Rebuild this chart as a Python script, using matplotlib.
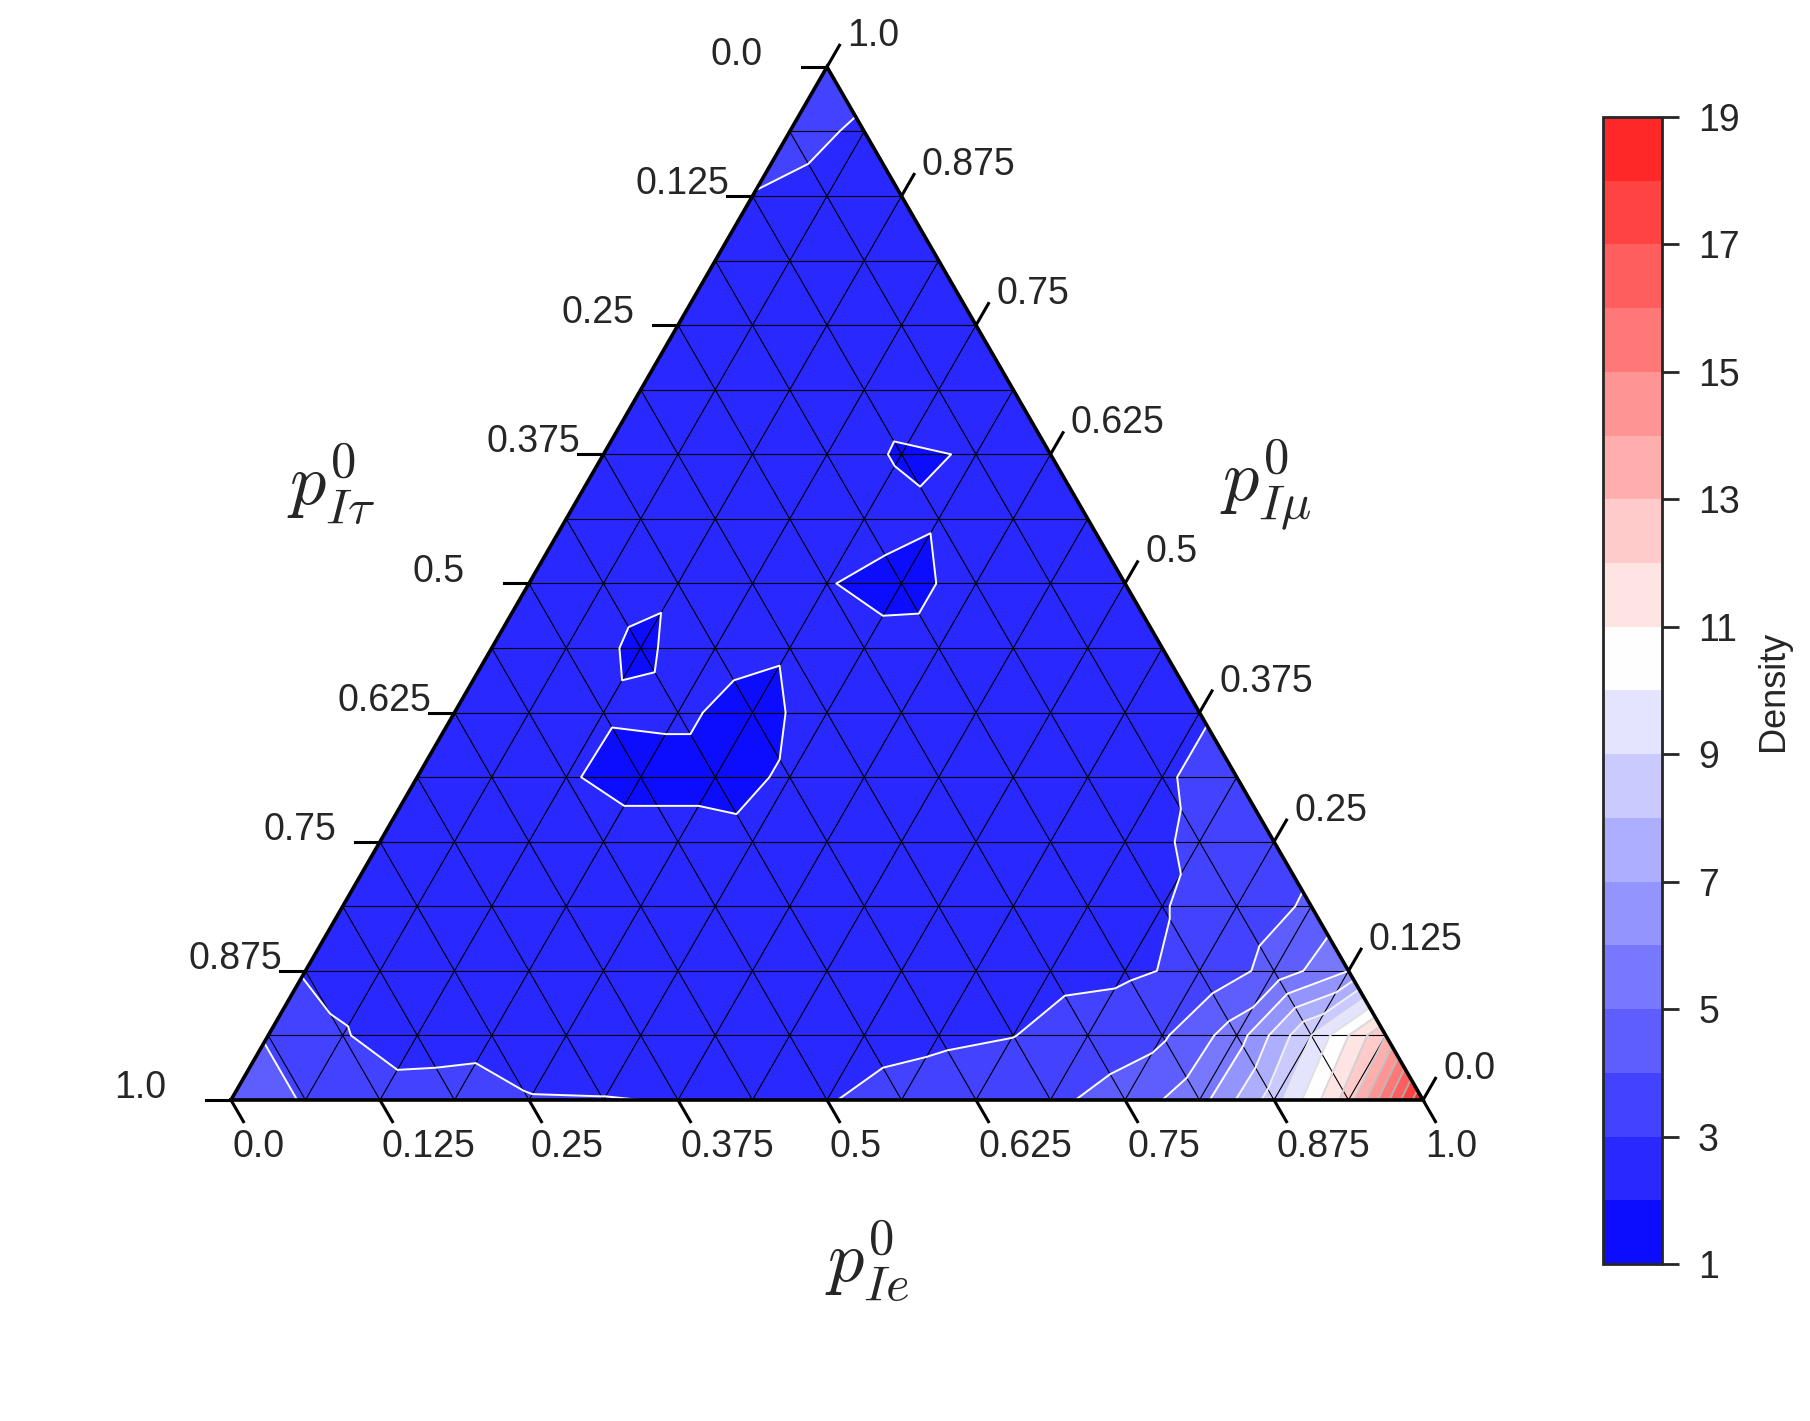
import matplotlib
matplotlib.use("Agg")
import matplotlib.pyplot as plt
import matplotlib.tri as mtri
import numpy as np

plt.rcParams['font.family'] = ['Liberation Sans', 'DejaVu Sans']
plt.rcParams['mathtext.fontset'] = 'cm'

# density on the 1/16 simplex grid, one list per p_Imu row (bottom -> top),
# entries run along p_Ie from 0 up to 1 - p_Imu
dens_mu00 = [4.4, 3.95, 3.35, 3.4, 3.05, 3.03, 2.97, 2.92, 2.95, 3.3, 3.5, 3.8, 4.4, 5.6, 8.5, 12.5, 18.9]
dens_mu01 = [3.95, 3.05, 2.6, 2.7, 2.5, 2.5, 2.55, 2.6, 2.7, 2.85, 2.98, 3.4, 3.85, 5.5, 9.0, 13.0]
dens_mu02 = [2.9, 2.7, 2.5, 2.45, 2.4, 2.4, 2.45, 2.5, 2.55, 2.65, 2.75, 2.85, 3.2, 4.35, 6.0]
dens_mu03 = [2.7, 2.5, 2.4, 2.35, 2.3, 2.3, 2.35, 2.4, 2.5, 2.6, 2.75, 2.95, 3.45, 4.15]
dens_mu04 = [2.6, 2.45, 2.35, 2.5, 2.5, 2.3, 2.3, 2.35, 2.45, 2.6, 2.9, 3.05, 3.5]
dens_mu05 = [2.55, 2.4, 2.1, 1.6, 1.6, 2.15, 2.3, 2.35, 2.45, 2.6, 2.95, 3.2]
dens_mu06 = [2.5, 2.35, 2.12, 2.2, 1.6, 2.5, 2.35, 2.4, 2.5, 2.65, 2.95]
dens_mu07 = [2.45, 2.3, 1.88, 2.4, 2.15, 2.35, 2.4, 2.45, 2.55, 2.6]
dens_mu08 = [2.4, 2.25, 2.1, 2.3, 2.05, 1.65, 2.4, 2.45, 2.55]
dens_mu09 = [2.4, 2.35, 2.3, 2.35, 2.45, 2.1, 2.45, 2.5]
dens_mu10 = [2.45, 2.4, 2.35, 2.45, 1.9, 2.05, 2.5]
dens_mu11 = [2.5, 2.45, 2.4, 2.4, 2.55, 2.55]
dens_mu12 = [2.6, 2.5, 2.45, 2.5, 2.6]
dens_mu13 = [2.75, 2.6, 2.55, 2.6]
dens_mu14 = [2.97, 2.7, 2.6]
dens_mu15 = [3.3, 2.85]
dens_mu16 = [3.5]

tick_values = [0.0, 0.125, 0.25, 0.375, 0.5, 0.625, 0.75, 0.875, 1.0]
tick_labels = ["0.0", "0.125", "0.25", "0.375", "0.5", "0.625", "0.75", "0.875", "1.0"]
contour_levels = list(range(1, 20))
cbar_ticks = [1, 3, 5, 7, 9, 11, 13, 15, 17, 19]
label_e = r"$p^0_{Ie}$"
label_mu = r"$p^0_{I\mu}$"
label_tau = r"$p^0_{I\tau}$"

H = np.sqrt(3) / 2
N = 16


def cart(e, mu):
    return e + mu / 2.0, mu * H


rows = [dens_mu00, dens_mu01, dens_mu02, dens_mu03, dens_mu04, dens_mu05,
        dens_mu06, dens_mu07, dens_mu08, dens_mu09, dens_mu10, dens_mu11,
        dens_mu12, dens_mu13, dens_mu14, dens_mu15, dens_mu16]

xs, ys, zs = [], [], []
index = {}
for j, row in enumerate(rows):
    for i, val in enumerate(row):
        index[(i, j)] = len(zs)
        x, y = cart(i / N, j / N)
        xs.append(x)
        ys.append(y)
        zs.append(val)

triangles = []
for j in range(N):
    for i in range(N - j):
        triangles.append([index[(i, j)], index[(i + 1, j)], index[(i, j + 1)]])
        if i + j < N - 1:
            triangles.append([index[(i + 1, j)], index[(i + 1, j + 1)], index[(i, j + 1)]])
tri = mtri.Triangulation(np.array(xs), np.array(ys), triangles)
zs = np.array(zs)

fig = plt.figure(figsize=(9.05, 7.105), dpi=200)
ax = fig.add_axes([0.1276, 0.2259, 0.6586, 0.7270])
ax.set_xlim(0, 1)
ax.set_ylim(0, H)
ax.axis('off')

cs = ax.tricontourf(tri, zs, levels=contour_levels, cmap='bwr', vmin=1, vmax=20)

# simplex grid
for k in range(1, N):
    f = k / N
    for (a, b) in [((0, f), (1 - f, f)), ((f, 0), (f, 1 - f)), ((f, 0), (0, f))]:
        p, q = cart(*a), cart(*b)
        ax.plot([p[0], q[0]], [p[1], q[1]], color='black', lw=0.4, zorder=2)

inner = contour_levels[1:-1]
line_cols = [str(np.clip(1.0 - (lev - 6) * 0.03, 0.62, 1.0)) for lev in inner]
ax.tricontour(tri, zs, levels=inner, colors=line_cols, linewidths=0.7, zorder=3)

# border
corners = [cart(0, 0), cart(1, 0), cart(0, 1), cart(0, 0)]
ax.plot([c[0] for c in corners], [c[1] for c in corners], color='black', lw=1.3,
        zorder=4, clip_on=False, solid_joinstyle='miter')

# ticks and tick labels
L = 25 / 1192.0
txt_kw = dict(fontsize=13.5, color='0.15', ha='left', va='center')
for v, lab in zip(tick_values, tick_labels):
    # bottom axis (p_Ie)
    x0, y0 = cart(v, 0)
    ax.plot([x0, x0 + 0.5 * L], [y0, y0 - H * L], color='black', lw=1.1, clip_on=False)
    ax.text(x0 + 0.0017, y0 - 0.0394, lab, **txt_kw)
    # right axis (p_Imu)
    x0, y0 = cart(1 - v, v)
    ax.plot([x0, x0 + 0.5 * L], [y0, y0 + H * L], color='black', lw=1.1, clip_on=False)
    ax.text(x0 + 0.0168, y0 + 0.026, lab, **txt_kw)
    # left axis (p_Itau)
    x0, y0 = cart(0, 1 - v)
    ax.plot([x0, x0 - L], [y0, y0], color='black', lw=1.1, clip_on=False)
    ax.text(x0 - 0.098, y0 + 0.010, lab, **txt_kw)

ax.text(0.534, -0.1347, label_e, fontsize=26, color='0.15', ha='center', va='center')
ax.text(0.0839, 0.516, label_tau, fontsize=26, color='0.15', ha='center', va='center')
ax.text(0.868, 0.516, label_mu, fontsize=26, color='0.15', ha='center', va='center')

cax = fig.add_axes([0.8856, 0.1105, 0.0326, 0.8072])
cbar = fig.colorbar(cs, cax=cax, ticks=cbar_ticks)
cbar.outline.set_linewidth(1.0)
cbar.outline.set_edgecolor('0.15')
cax.tick_params(length=6, width=1, labelsize=13.5, colors='0.15', pad=7)
cbar.set_label('Density', fontsize=13, color='0.15', labelpad=6)

fig.savefig('out.png', dpi=200, facecolor='white')
